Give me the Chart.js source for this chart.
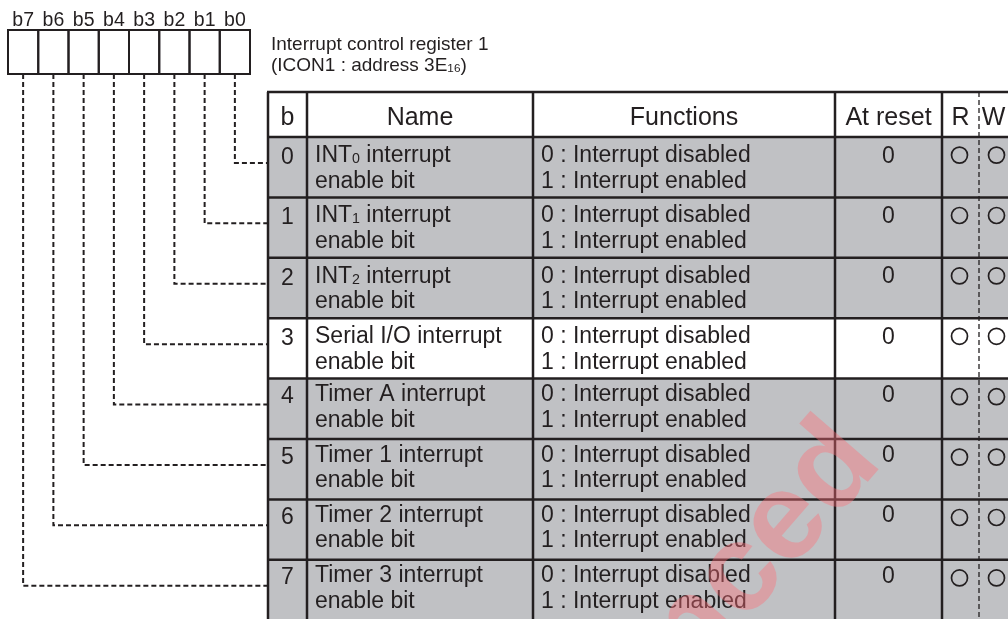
<!DOCTYPE html>
<html>
<head>
<meta charset="utf-8">
<script src="https://cdn.jsdelivr.net/npm/chart.js@4/dist/chart.umd.min.js"></script>
<style>
  body { margin: 0; background: #fff; }
  canvas { display: block; }
</style>
</head>
<body>
<canvas id="regChart" width="1008" height="619"></canvas>
<script>
// Register data
const bits = [0, 1, 2, 3, 4, 5, 6, 7];
const bitLabels = ['b7', 'b6', 'b5', 'b4', 'b3', 'b2', 'b1', 'b0'];
const headers = ['b', 'Name', 'Functions', 'At reset', 'R', 'W'];
const titleLines = ['Interrupt control register 1', '(ICON1 : address 3E{16})'];
const nameLine1 = ['INT{0} interrupt', 'INT{1} interrupt', 'INT{2} interrupt', 'Serial I/O interrupt',
                   'Timer A interrupt', 'Timer 1 interrupt', 'Timer 2 interrupt', 'Timer 3 interrupt'];
const nameLine2 = ['enable bit', 'enable bit', 'enable bit', 'enable bit',
                   'enable bit', 'enable bit', 'enable bit', 'enable bit'];
const funcLine1 = ['0 : Interrupt disabled', '0 : Interrupt disabled', '0 : Interrupt disabled', '0 : Interrupt disabled',
                   '0 : Interrupt disabled', '0 : Interrupt disabled', '0 : Interrupt disabled', '0 : Interrupt disabled'];
const funcLine2 = ['1 : Interrupt enabled', '1 : Interrupt enabled', '1 : Interrupt enabled', '1 : Interrupt enabled',
                   '1 : Interrupt enabled', '1 : Interrupt enabled', '1 : Interrupt enabled', '1 : Interrupt enabled'];
const resetValues = ['0', '0', '0', '0', '0', '0', '0', '0'];
const readable = [true, true, true, true, true, true, true, true];
const writable = [true, true, true, true, true, true, true, true];
const shaded = [true, true, true, false, true, true, true, true];
const watermark = 'Advanced';

// Layout (x in pixels, y in row units)
const ROW_PX = 60.4;
const Y_MIN = -137 / ROW_PX;
const Y_MAX = (619 - 137) / ROW_PX;
const HEADER_TOP = (92 - 137) / ROW_PX;
const REG_TOP = (30 - 137) / ROW_PX;
const REG_BOTTOM = (74 - 137) / ROW_PX;
const REG_LEFT = 8;
const BOX_W = 30.25;
const colEdges = [268, 307, 533, 835, 942, 979, 1008];
const JOIN_Y = 0.43;
const MARK_Y = 0.3;
const INK = '#231f20';
const GRAY = '#c0c1c4';
const FONT = '"Liberation Sans", Arial, sans-serif';

function bitCenter(b) { return REG_LEFT + BOX_W * (7 - b) + BOX_W / 2; }

// draw text with {subscript} parts
function drawRich(ctx, str, x, y, size, align) {
  const parts = str.split(/(\{[^}]*\})/).filter(p => p.length);
  const segs = parts.map(p => {
    const sub = p.startsWith('{');
    const txt = sub ? p.slice(1, -1) : p;
    const sz = sub ? size * 0.62 : size;
    ctx.font = sz + 'px ' + FONT;
    return { txt, sub, sz, w: ctx.measureText(txt).width };
  });
  const total = segs.reduce((a, s) => a + s.w, 0);
  let cx = align === 'center' ? x - total / 2 : x;
  ctx.textAlign = 'left';
  ctx.textBaseline = 'alphabetic';
  segs.forEach(s => {
    ctx.font = s.sz + 'px ' + FONT;
    ctx.fillText(s.txt, cx, y + (s.sub ? 1 : 0));
    cx += s.w;
  });
}

const registerPlugin = {
  id: 'registerTable',
  beforeDatasetsDraw(chart) {
    const ctx = chart.ctx;
    const xs = chart.scales.x, ys = chart.scales.y;
    const px = v => xs.getPixelForValue(v);
    const py = v => ys.getPixelForValue(v);
    const left = px(colEdges[0]), right = px(colEdges[colEdges.length - 1]);
    ctx.save();
    // row shading
    bits.forEach(i => {
      if (shaded[i]) {
        ctx.fillStyle = GRAY;
        ctx.fillRect(left, py(i), right - left, py(i + 1) - py(i));
      }
    });
    ctx.strokeStyle = INK;
    ctx.lineWidth = 2.5;
    // horizontal rules
    [HEADER_TOP].concat(bits, [8]).forEach(v => {
      ctx.beginPath();
      ctx.moveTo(left - 1, py(v));
      ctx.lineTo(right, py(v));
      ctx.stroke();
    });
    // column rules
    colEdges.slice(0, 5).forEach(x => {
      ctx.beginPath();
      ctx.moveTo(px(x), py(HEADER_TOP));
      ctx.lineTo(px(x), py(8));
      ctx.stroke();
    });
    // R / W split
    ctx.lineWidth = 1.3;
    ctx.setLineDash([5, 3]);
    ctx.beginPath();
    ctx.moveTo(px(colEdges[5]), py(HEADER_TOP));
    ctx.lineTo(px(colEdges[5]), py(8));
    ctx.stroke();
    ctx.setLineDash([]);
    // register boxes
    ctx.lineWidth = 2;
    bitLabels.forEach((lab, k) => {
      const x0 = px(REG_LEFT + BOX_W * k), x1 = px(REG_LEFT + BOX_W * (k + 1));
      ctx.strokeRect(x0, py(REG_TOP), x1 - x0, py(REG_BOTTOM) - py(REG_TOP));
    });
    ctx.restore();
  },
  afterDatasetsDraw(chart) {
    const ctx = chart.ctx;
    const xs = chart.scales.x, ys = chart.scales.y;
    const px = v => xs.getPixelForValue(v);
    const py = v => ys.getPixelForValue(v);
    ctx.save();
    ctx.fillStyle = INK;
    // bit labels above the register
    bitLabels.forEach((lab, k) => {
      drawRich(ctx, lab, px(REG_LEFT + BOX_W * k + BOX_W / 2), py(REG_TOP) - 4, 19.5, 'center');
    });
    // register title
    drawRich(ctx, titleLines[0], px(271), py(REG_TOP) + 20, 19, 'left');
    drawRich(ctx, titleLines[1], px(271), py(REG_TOP) + 41, 19, 'left');
    // header
    headers.forEach((h, c) => {
      const cx = (colEdges[c] + colEdges[c + 1]) / 2;
      drawRich(ctx, h, px(cx), py(0) - 12, 25, 'center');
    });
    // rows (lower rows sit a little higher in the original)
    bits.forEach(i => {
      const top = py(i) - (i >= 4 ? 2.5 : 0);
      drawRich(ctx, String(i), px((colEdges[0] + colEdges[1]) / 2), top + 27, 23, 'center');
      drawRich(ctx, nameLine1[i], px(colEdges[1] + 8), top + 25, 23, 'left');
      drawRich(ctx, nameLine2[i], px(colEdges[1] + 8), top + 50.5, 23, 'left');
      drawRich(ctx, funcLine1[i], px(colEdges[2] + 8), top + 25, 23, 'left');
      drawRich(ctx, funcLine2[i], px(colEdges[2] + 8), top + 50.5, 23, 'left');
      drawRich(ctx, resetValues[i], px((colEdges[3] + colEdges[4]) / 2), top + 25.5, 23, 'center');
    });
    ctx.restore();
  },
  afterDraw(chart) {
    const ctx = chart.ctx;
    const xs = chart.scales.x, ys = chart.scales.y;
    ctx.save();
    ctx.translate(xs.getPixelForValue(884), ys.getPixelForValue(5.4));
    ctx.rotate(-49 * Math.PI / 180);
    ctx.font = 'bold 124px ' + FONT;
    ctx.textAlign = 'right';
    ctx.textBaseline = 'alphabetic';
    ctx.fillStyle = 'rgba(255, 110, 120, 0.40)';
    ctx.fillText(watermark, 0, 0);
    ctx.restore();
  }
};

// leader lines from each register bit to its table row
const leaderSets = bits.map(b => ({
  data: [
    { x: bitCenter(b), y: REG_BOTTOM },
    { x: bitCenter(b), y: b + JOIN_Y },
    { x: colEdges[0], y: b + JOIN_Y }
  ],
  showLine: true,
  borderColor: INK,
  borderWidth: 2,
  borderDash: [5, 3],
  pointRadius: 0,
  fill: false
}));

// R / W marks
const markSet = {
  data: bits.flatMap(i => {
    const pts = [];
    if (readable[i]) pts.push({ x: colEdges[4] + 17.5, y: i + MARK_Y });
    if (writable[i]) pts.push({ x: colEdges[5] + 17.5, y: i + MARK_Y });
    return pts;
  }),
  pointStyle: 'circle',
  pointRadius: 8,
  borderWidth: 1.7,
  borderColor: INK,
  backgroundColor: 'rgba(0,0,0,0)'
};

new Chart(document.getElementById('regChart').getContext('2d'), {
  type: 'scatter',
  data: { datasets: leaderSets.concat([markSet]) },
  options: {
    responsive: false,
    animation: false,
    events: [],
    clip: false,
    layout: { padding: 0, autoPadding: false },
    scales: {
      x: { type: 'linear', min: 0, max: 1008, display: false },
      y: { type: 'linear', min: Y_MIN, max: Y_MAX, reverse: true, display: false }
    },
    plugins: { legend: { display: false }, tooltip: { enabled: false } }
  },
  plugins: [registerPlugin]
});
</script>
</body>
</html>
